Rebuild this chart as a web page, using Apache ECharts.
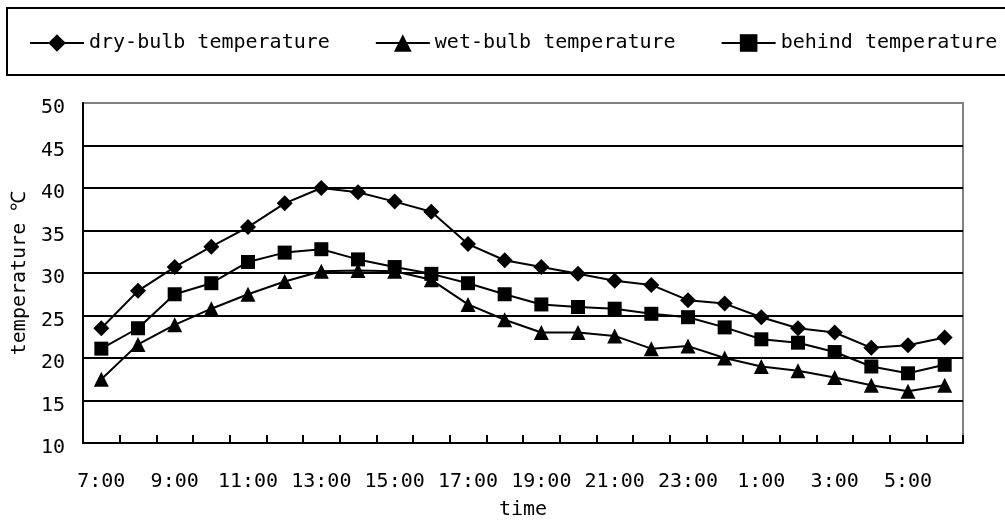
<!DOCTYPE html>
<html>
<head>
<meta charset="utf-8">
<title>temperature</title>
<script src="https://cdn.jsdelivr.net/npm/echarts@6/dist/echarts.min.js"></script>
<style>
  html, body { margin: 0; padding: 0; background: #ffffff; }
  #chart { width: 1005px; height: 526px; }
</style>
</head>
<body>
<div id="chart"></div>
<script>
// 温度曲线
var hours = ["7:00", "8:00", "9:00", "10:00", "11:00", "12:00", "13:00", "14:00",
  "15:00", "16:00", "17:00", "18:00", "19:00", "20:00", "21:00", "22:00",
  "23:00", "0:00", "1:00", "2:00", "3:00", "4:00", "5:00", "6:00"];
var dryBulb = [23.5, 27.9, 30.7, 33.1, 35.4, 38.2, 40.0, 39.5, 38.4, 37.2, 33.4, 31.5,
  30.7, 29.9, 29.1, 28.6, 26.8, 26.4, 24.8, 23.5, 23.0, 21.2, 21.5, 22.4];
var wetBulb = [17.5, 21.6, 23.9, 25.8, 27.5, 29.0, 30.2, 30.3, 30.2, 29.2, 26.3, 24.5,
  23.0, 23.0, 22.6, 21.1, 21.4, 20.0, 19.0, 18.5, 17.7, 16.8, 16.1, 16.8];
var behind = [21.1, 23.5, 27.5, 28.8, 31.3, 32.4, 32.8, 31.6, 30.7, 29.9, 28.8, 27.5,
  26.3, 26.0, 25.8, 25.2, 24.8, 23.6, 22.2, 21.8, 20.7, 19.0, 18.2, 19.2];
var yMin = 10;
var yMax = 50;
var yStep = 5;

var font = "DejaVu Sans Mono";

function makeSeries(name, data, symbol, size) {
  return {
    name: name,
    type: "line",
    data: data,
    symbol: symbol,
    symbolSize: size,
    showAllSymbol: true,
    lineStyle: { color: "#000000", width: 2 },
    itemStyle: { color: "#000000" },
    emphasis: { disabled: true },
    z: 3
  };
}

// 最上面那条线是灰色的
var splitColors = [];
for (var v = yMin; v < yMax; v += yStep) splitColors.push("#000000");
splitColors.push("#808080");

var myChart = echarts.init(document.getElementById("chart"), null, { renderer: "canvas" });
myChart.setOption({
  animation: false,
  backgroundColor: "#ffffff",
  graphic: [{
    type: "rect",
    shape: { x: 7, y: 8, width: 1020, height: 67 },
    style: { fill: "none", stroke: "#000000", lineWidth: 2 },
    z: -1
  }],
  legend: {
    left: 29,
    top: 33,
    padding: 0,
    itemGap: 45,
    itemWidth: 54,
    itemHeight: 22,
    textStyle: { fontFamily: font, fontSize: 20, color: "#000000" },
    data: ["dry-bulb temperature", "wet-bulb temperature", "behind temperature"]
  },
  grid: {
    left: 83,
    right: 42,
    top: 103,
    bottom: 83,
    show: true,
    borderColor: "#808080",
    borderWidth: 2,
    backgroundColor: "#ffffff"
  },
  xAxis: {
    type: "category",
    data: hours,
    boundaryGap: true,
    name: "time",
    nameLocation: "middle",
    nameGap: 57,
    nameTextStyle: { fontFamily: font, fontSize: 20, color: "#000000" },
    axisLine: { lineStyle: { color: "#000000", width: 2 } },
    axisTick: { show: true, inside: true, length: 8, interval: 0, lineStyle: { color: "#000000", width: 2 } },
    axisLabel: { interval: 1, margin: 29, fontFamily: font, fontSize: 20, color: "#000000" },
    splitLine: { show: false }
  },
  yAxis: {
    type: "value",
    min: yMin,
    max: yMax,
    interval: yStep,
    name: "temperature ℃",
    nameLocation: "middle",
    nameGap: 42,
    nameRotate: 90,
    nameTextStyle: { fontFamily: font, fontSize: 20, color: "#000000" },
    axisLine: { show: true, lineStyle: { color: "#000000", width: 2 } },
    axisTick: { show: false },
    axisLabel: { margin: 18, verticalAlign: "top", lineHeight: 10, fontFamily: font, fontSize: 20, color: "#000000" },
    splitLine: { show: true, lineStyle: { color: splitColors, width: 2 } }
  },
  series: [
    makeSeries("dry-bulb temperature", dryBulb, "diamond", 16),
    makeSeries("wet-bulb temperature", wetBulb, "triangle", 15),
    makeSeries("behind temperature", behind, "rect", 14)
  ]
});
</script>
</body>
</html>
